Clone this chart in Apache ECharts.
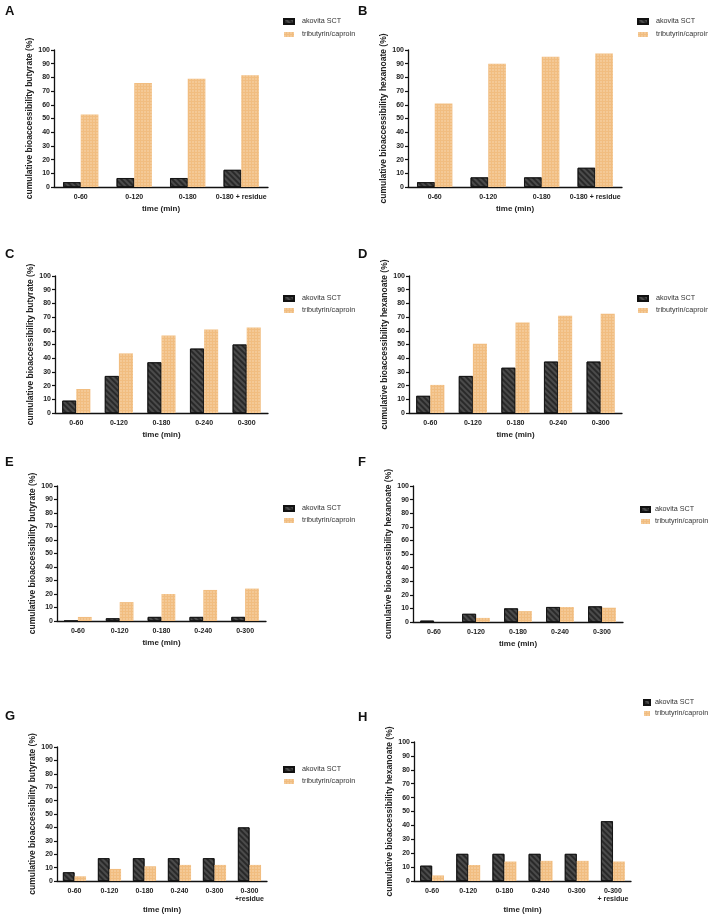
<!DOCTYPE html>
<html><head><meta charset="utf-8">
<script src="https://cdn.jsdelivr.net/npm/echarts@6/dist/echarts.min.js"></script>
<style>html,body{margin:0;padding:0;background:#fff}#c{width:708px;height:915px}</style>
</head><body><div id="c"></div>
<script>
// ---- data ----
const seriesNames = ['akovita SCT', 'tributyrin/caproin'];
const yTicks = [0, 10, 20, 30, 40, 50, 60, 70, 80, 90, 100];

const catsA = ['0-60', '0-120', '0-180', '0-180 + residue'];
const akovitaA = [3.5, 6.5, 6.5, 12.5];
const tribA = [53, 76, 79, 81.5];

const catsB = ['0-60', '0-120', '0-180', '0-180 + residue'];
const akovitaB = [3.5, 7, 7, 14];
const tribB = [61, 90, 95, 97.5];

const catsC = ['0-60', '0-120', '0-180', '0-240', '0-300'];
const akovitaC = [9, 27, 37, 47, 50];
const tribC = [17.5, 43.5, 56.5, 61, 62.5];

const catsD = ['0-60', '0-120', '0-180', '0-240', '0-300'];
const akovitaD = [12.5, 27, 33, 37.5, 37.5];
const tribD = [20.5, 50.5, 66, 71, 72.5];

const catsE = ['0-60', '0-120', '0-180', '0-240', '0-300'];
const akovitaE = [0, 2, 3, 3, 3];
const tribE = [3, 14, 20, 23, 24];

const catsF = ['0-60', '0-120', '0-180', '0-240', '0-300'];
const akovitaF = [1, 6, 10, 11, 11.5];
const tribF = [0, 3, 8, 11, 10.5];

const catsG = ['0-60', '0-120', '0-180', '0-240', '0-300', '0-300\n+residue'];
const akovitaG = [6.5, 17, 17, 17, 17, 40];
const tribG = [3.5, 9, 11, 12, 12, 12];

const catsH = ['0-60', '0-120', '0-180', '0-240', '0-300', '0-300\n+ residue'];
const akovitaH = [11, 19.5, 19.5, 19.5, 19.5, 43];
const tribH = [4, 11.5, 14, 14.5, 14.5, 14];

const yTitleBut = 'cumulative bioaccessibility butyrate (%)';
const yTitleHex = 'cumulative bioaccessibility hexanoate (%)';
const xTitle = 'time (min)';

// ---- layout ----
const panels = [
  {letter:'A', cats:catsA, ak:akovitaA, tr:tribA, yt:yTitleBut, g:[54,50,214,137], lg:[283,18,6,10,3], lt:[5,5]},
  {letter:'B', cats:catsB, ak:akovitaB, tr:tribB, yt:yTitleHex, g:[408,50,214,137], lg:[637,18,6,10,3], lt:[358,5]},
  {letter:'C', cats:catsC, ak:akovitaC, tr:tribC, yt:yTitleBut, g:[55,276,213,137], lg:[283,295,5,10,3], lt:[5,248]},
  {letter:'D', cats:catsD, ak:akovitaD, tr:tribD, yt:yTitleHex, g:[409,276,213,137], lg:[637,295,5,10,3], lt:[358,248]},
  {letter:'E', cats:catsE, ak:akovitaE, tr:tribE, yt:yTitleBut, g:[57,486,209,135], lg:[283,505,5,10,3], lt:[5,456]},
  {letter:'F', cats:catsF, ak:akovitaF, tr:tribF, yt:yTitleHex, g:[413,486,210,136], lg:[640,506,5,9,0], lt:[358,456]},
  {letter:'G', cats:catsG, ak:akovitaG, tr:tribG, yt:yTitleBut, g:[57,747,210,135], lg:[283,766,5,10,3], lt:[5,710]},
  {letter:'H', cats:catsH, ak:akovitaH, tr:tribH, yt:yTitleHex, g:[414,742,217,140], lg:[643,699,4,6,0], lt:[358,711]}
];

const FONT = '"Liberation Sans", Arial, sans-serif';
const akColor = '#4b4b4b';
const trColor = '#f1bd80';
const akDecal = {symbol:'rect', symbolSize:1, color:'rgba(0,0,0,0.45)', dashArrayX:[1,0], dashArrayY:[2,2], rotation:Math.PI/4};
const trDecal = {symbol:'circle', symbolSize:0.8, color:'rgba(255,240,220,0.55)', dashArrayX:[2,1], dashArrayY:[2,1]};

const option = {
  backgroundColor:'#fff',
  animation:false,
  grid:[], xAxis:[], yAxis:[], series:[], legend:[], graphic:[]
};

panels.forEach((p, i) => {
  option.grid.push({left:p.g[0], top:p.g[1], width:p.g[2], height:p.g[3], containLabel:false});
  option.xAxis.push({
    type:'category', gridIndex:i, data:p.cats,
    name:xTitle, nameLocation:'middle', nameGap:p.cats.length===6?25:18,
    nameTextStyle:{fontFamily:FONT, fontWeight:'bold', fontSize:8, color:'#222'},
    axisLine:{lineStyle:{color:'#111', width:1.3}},
    axisTick:{show:false},
    axisLabel:{fontFamily:FONT, fontWeight:'bold', fontSize:7, color:'#222', margin:6, interval:0, lineHeight:8}
  });
  option.yAxis.push({
    type:'value', gridIndex:i, min:0, max:100, interval:10,
    name:p.yt, nameLocation:'middle', nameGap:20,
    nameTextStyle:{fontFamily:FONT, fontWeight:'bold', fontSize:8.5, color:'#222'},
    axisLine:{show:true, lineStyle:{color:'#111', width:1.3}},
    axisTick:{show:true, length:3, lineStyle:{color:'#111', width:1.2}},
    splitLine:{show:false},
    axisLabel:{fontFamily:FONT, fontWeight:'bold', fontSize:7, color:'#222', margin:4,
      formatter: v => yTicks.indexOf(v) >= 0 ? String(v) : ''}
  });
  option.series.push({
    type:'bar', name:seriesNames[0], xAxisIndex:i, yAxisIndex:i, data:p.ak,
    barWidth:'33%', barGap:'0%',
    itemStyle:{color:akColor, borderColor:'#111', borderWidth:0.8, decal:akDecal}
  });
  option.series.push({
    type:'bar', name:seriesNames[1], xAxisIndex:i, yAxisIndex:i, data:p.tr,
    barWidth:'33%', barGap:'0%',
    itemStyle:{color:trColor, decal:trDecal}
  });
  option.legend.push({
    orient:'vertical', left:p.lg[0], top:p.lg[1], data:seriesNames, icon:'rect',
    itemWidth:p.lg[3], itemHeight:5, itemGap:p.lg[2], selectedMode:false, padding:0,
    textStyle:{fontFamily:FONT, fontSize:7.2, color:'#333', padding:[0,0,0,p.lg[4]]}
  });
  option.graphic.push({
    type:'text', left:p.lt[0], top:p.lt[1],
    style:{text:p.letter, font:'bold 13px ' + FONT, fill:'#111'}
  });
});

const chart = echarts.init(document.getElementById('c'), null, {renderer:'canvas'});
chart.setOption(option);
</script></body></html>
